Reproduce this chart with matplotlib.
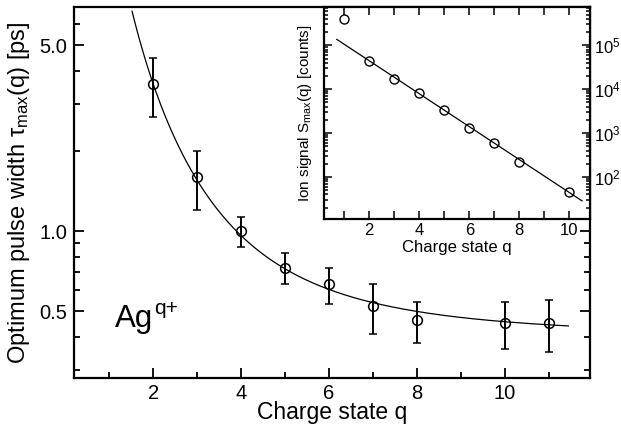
import numpy as np
import matplotlib
matplotlib.use("Agg")
import matplotlib.pyplot as plt
from matplotlib.ticker import FixedLocator, NullFormatter, LogLocator, LogFormatterSciNotation

plt.rcParams['font.family'] = ['Liberation Sans', 'DejaVu Sans']
plt.rcParams['mathtext.fontset'] = 'custom'
plt.rcParams['mathtext.rm'] = 'Liberation Sans'
plt.rcParams['mathtext.it'] = 'Liberation Sans'
plt.rcParams['mathtext.bf'] = 'Liberation Sans:bold'

# ---- main panel data: optimum pulse width vs charge state ----
charge_main = [2, 3, 4, 5, 6, 7, 8, 10, 11]
tau_max = [3.59, 1.60, 1.00, 0.73, 0.632, 0.523, 0.463, 0.45, 0.45]
tau_upper = [4.5, 2.0, 1.13, 0.832, 0.73, 0.632, 0.542, 0.542, 0.551]
tau_lower = [2.69, 1.2, 0.873, 0.632, 0.532, 0.41, 0.38, 0.361, 0.351]
# fit curve tau = offset + amp / q**exp (parameters read from the drawn fit)
fit_offset = 0.40
fit_amp = 18.0
fit_exp = 2.5
fit_q_range = [1.52, 11.44]

# ---- inset data: ion signal vs charge state ----
charge_inset = [1, 2, 3, 4, 5, 6, 7, 8, 10]
signal_max = [4.0e5, 4.4e4, 1.69e4, 8.4e3, 3.3e3, 1.34e3, 600, 220, 45]
inset_line_q = [0.71, 10.5]
inset_line_s = [1.37e5, 28.5]

main_xticks = [2, 4, 6, 8, 10]
main_yticks = [0.5, 1.0, 5.0]
main_ytick_labels = ['0.5', '1.0', '5.0']
inset_xticks = [2, 4, 6, 8, 10]

fig = plt.figure(figsize=(6.21, 4.30), dpi=100)
ax = fig.add_axes([74/621, 1-378.3/430, (589.5-74)/621, (378.3-6.5)/430])

tau = np.array(tau_max)
yerr = [tau - np.array(tau_lower), np.array(tau_upper) - tau]
ax.errorbar(charge_main, tau_max, yerr=yerr, fmt='o', mfc='none', mec='black',
            ecolor='black', ms=7, mew=1.1, elinewidth=1.4, capsize=3, capthick=1.4,
            zorder=3)
qq = np.linspace(fit_q_range[0], fit_q_range[1], 400)
ax.plot(qq, fit_offset + fit_amp / qq**fit_exp, color='black', lw=0.9, zorder=2)

ax.set_yscale('log')
ax.set_xlim(0.2, 11.92)
ax.set_ylim(0.28, 7.0)
ax.yaxis.set_major_locator(FixedLocator(main_yticks))
ax.set_yticklabels(main_ytick_labels)
ax.yaxis.set_minor_locator(FixedLocator([0.3, 0.4, 0.6, 0.7, 0.8, 0.9, 2, 3, 4, 6, 7]))
ax.yaxis.set_minor_formatter(NullFormatter())
ax.set_xticks(main_xticks)
ax.set_xticks([1, 3, 5, 7, 9, 11], minor=True)
ax.tick_params(which='both', direction='in', left=True, right=True, top=False,
               labelsize=14.5, width=1.3)
ax.tick_params(which='major', length=7, pad=5)
ax.tick_params(axis='x', which='major', pad=4)
ax.tick_params(which='minor', length=4)
for s in ax.spines.values():
    s.set_linewidth(1.6)
ax.set_xlabel('Charge state q', fontsize=16.5, labelpad=-1)
ax.set_ylabel(r'Optimum pulse width $\mathrm{\tau}_{\mathrm{max}}$(q) [ps]', fontsize=17, labelpad=5)
ax.text(1.14, 0.437, 'Ag', fontsize=22.5, ha='left', va='baseline')
ax.text(2.03, 0.488, 'q+', fontsize=15, ha='left', va='baseline')

# ---- inset ----
ins = fig.add_axes([324/621, 1-219/430, (589.5-324)/621, (219-6.5)/430])
ins.set_facecolor('white')
ins.plot(charge_inset, signal_max, 'o', mfc='none', mec='black', ms=6.5, mew=1.0, zorder=3)
ins.plot(inset_line_q, inset_line_s, color='black', lw=0.9, zorder=2)
ins.set_yscale('log')
ins.set_xlim(0.2, 10.8)
ins.set_ylim(11, 7.7e5)
ins.set_xticks(inset_xticks)
ins.set_xticks([1, 3, 5, 7, 9], minor=True)
ins.yaxis.set_major_locator(LogLocator(base=10, numticks=10))
ins.yaxis.set_minor_locator(LogLocator(base=10, subs=np.arange(2, 10), numticks=20))
ins.yaxis.set_minor_formatter(NullFormatter())
ins.yaxis.set_major_formatter(LogFormatterSciNotation())
ins.tick_params(which='both', direction='in', left=True, right=True, top=True,
                labelleft=False, labelright=True, labelsize=12, width=1.1)
ins.tick_params(which='major', length=6, pad=3)
ins.tick_params(which='minor', length=3)
ins.tick_params(axis='x', which='minor', length=6)
for s in ins.spines.values():
    s.set_linewidth(1.6)
ins.set_xlabel('Charge state q', fontsize=12, labelpad=1)
ins.set_ylabel(r'Ion signal $\mathrm{S}_{\mathrm{max}}$(q) [counts]', fontsize=11, labelpad=7)

fig.savefig('out.png', dpi=100)
